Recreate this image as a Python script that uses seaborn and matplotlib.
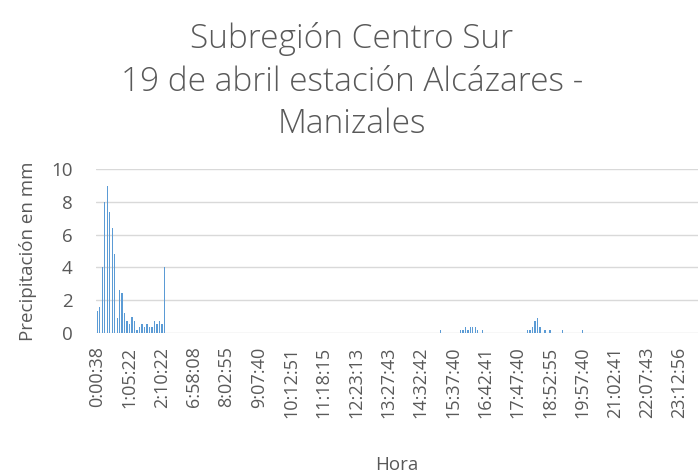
import matplotlib
matplotlib.use("Agg")
import matplotlib.pyplot as plt
import seaborn as sns
import pandas as pd

sns.set_theme(style="white")
plt.rcParams['font.family'] = ['Open Sans', 'DejaVu Sans']

# ---- data ----
tick_labels = ["0:00:38", "1:05:22", "2:10:22", "6:58:08", "8:02:55", "9:07:40",
               "10:12:51", "11:18:15", "12:23:13", "13:27:43", "14:32:42",
               "15:37:40", "16:42:41", "17:47:40", "18:52:55", "19:57:40",
               "21:02:41", "22:07:43", "23:12:56"]

early_morning = [1.35, 1.55, 4.0, 8.0, 9.0, 7.4, 6.4, 4.8, 0.9, 2.6, 2.4, 1.2,
                 0.7, 0.55, 0.94, 0.7, 0.16, 0.35, 0.55, 0.35, 0.55, 0.35,
                 0.35, 0.7, 0.55, 0.7, 0.55, 4.0]
dry_1 = [0.0] * 110
afternoon = [0.15, 0.0, 0.0, 0.0, 0.0, 0.0, 0.0, 0.0,
             0.15, 0.15, 0.35, 0.15, 0.35, 0.35, 0.35, 0.15, 0.0, 0.15]
dry_2 = [0.0] * 17
evening = [0.15, 0.15, 0.35, 0.7, 0.92, 0.35, 0.0, 0.15, 0.0, 0.15,
           0.0, 0.0, 0.0, 0.0, 0.15, 0.0, 0.0, 0.0, 0.0, 0.0, 0.0, 0.0, 0.15]
dry_3 = [0.0] * 46

precip_mm = early_morning + dry_1 + afternoon + dry_2 + evening + dry_3
label_step = 13

title = "Subregión Centro Sur\n19 de abril estación Alcázares -\nManizales"
xlabel = "Hora"
ylabel = "Precipitación en mm"

# ---- plot ----
TXT = "#595959"
n = len(precip_mm)
df = pd.DataFrame({"pos": list(range(n)), "mm": precip_mm})

W, H = 699, 474
fig = plt.figure(figsize=(W / 100, H / 100), dpi=100)
ax = fig.add_axes([96 / W, 1 - 332.7 / H, 602 / W, 163.4 / H])

sns.barplot(data=df, x="pos", y="mm", color="#5B9BD5", saturation=1,
            width=0.5, linewidth=0, ax=ax)

ax.set_xlim(-0.5, n - 0.5)
ax.set_ylim(0, 10)
ax.set_yticks(range(0, 11, 2))
ax.yaxis.grid(True, color="#D9D9D9", lw=1)
ax.xaxis.grid(False)
ax.set_axisbelow(True)
for s in ax.spines.values():
    s.set_visible(False)

ax.set_xticks(list(range(0, n, label_step)))
ax.set_xticklabels(tick_labels, rotation=90)
ax.tick_params(axis="x", length=0, pad=10, labelsize=13, colors=TXT)
ax.tick_params(axis="y", length=0, pad=17, labelsize=13.5, colors=TXT)

ax.set_xlabel(xlabel, fontsize=13.5, color=TXT, labelpad=27)
ax.set_ylabel(ylabel, fontsize=13.5, color=TXT, labelpad=10)

fig.text(352 / W, 1 - 22 / H, title, ha="center", va="top",
         fontsize=24, color=TXT, linespacing=1.36, fontweight="light")

fig.savefig("out.png", dpi=100)
